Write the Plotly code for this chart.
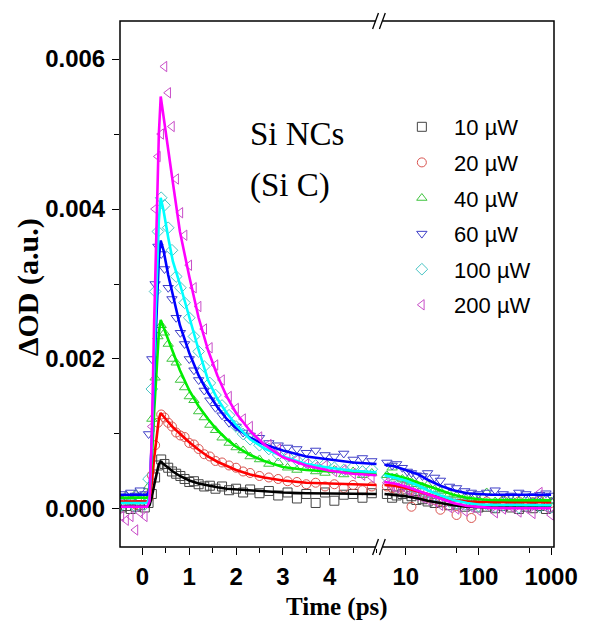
import plotly.graph_objects as go

# ---------------- data ----------------
series_names = ["10 \u00b5W", "20 \u00b5W", "40 \u00b5W", "60 \u00b5W", "100 \u00b5W", "200 \u00b5W"]

# measured points, linear time window (ps)
t_lin = [-0.45, -0.35, -0.25, -0.15, -0.05, 0.05, 0.13, 0.2, 0.27, 0.33, 0.4, 0.47, 0.55, 0.63,
         0.72, 0.81, 0.9, 1.0, 1.1, 1.2, 1.32, 1.44, 1.56, 1.7, 1.85, 2.0, 2.15, 2.3, 2.5, 2.7,
         2.9, 3.1, 3.3, 3.5, 3.7, 3.9, 4.1, 4.3, 4.5, 4.7, 4.9]
black_lin = [0.00002, 0.00004, 0.0, 0.00003, 0.00005, 0.00002, 0.00008, 0.0002, 0.00042, 0.00058,
             0.00066, 0.0006, 0.00055, 0.0005, 0.00047, 0.00044, 0.0004, 0.00036, 0.00037, 0.00033,
             0.0003, 0.00031, 0.00027, 0.0003, 0.00025, 0.00027, 0.00022, 0.00026, 0.00021, 0.00024,
             0.00018, 0.00022, 0.00014, 0.0002, 0.00008, 0.00022, 0.00011, 0.00019, 0.0002, 0.00015, 0.00021]
red_lin = [0.00008, 0.00012, 0.0001, 0.00006, 0.0001, 0.00009, 0.00015, 0.00045, 0.00085, 0.00115,
           0.00126, 0.00122, 0.00115, 0.0011, 0.00102, 0.00098, 0.00096, 0.00088, 0.00086, 0.0008,
           0.00073, 0.0007, 0.00064, 0.00062, 0.00058, 0.00055, 0.0005, 0.00048, 0.00044, 0.00042,
           0.0004, 0.00037, 0.00036, 0.00033, 0.00035, 0.0003, 0.00033, 0.00028, 0.00032, 0.00025, 0.0003]
green_lin = [0.00012, 0.00018, 0.00015, 0.0002, 0.00013, 0.00017, 0.0003, 0.0012, 0.00175, 0.0023,
             0.00245, 0.00235, 0.0022, 0.002, 0.00195, 0.00172, 0.00162, 0.0015, 0.00145, 0.0013,
             0.00122, 0.00112, 0.00105, 0.00095, 0.00088, 0.00082, 0.00078, 0.0007, 0.00066, 0.0006,
             0.00062, 0.00055, 0.00052, 0.00055, 0.0005, 0.00048, 0.00052, 0.00046, 0.0005, 0.00045, 0.00048]
blue_lin = [0.0002, 0.00015, 0.00022, 0.00018, 0.00025, 0.0002, 0.001, 0.002, 0.003, 0.0035,
            0.0034, 0.0032, 0.00295, 0.0028, 0.00255, 0.00235, 0.0022, 0.002, 0.00185, 0.00172,
            0.00158, 0.00145, 0.00135, 0.00125, 0.00115, 0.0011, 0.00102, 0.00098, 0.00095, 0.00088,
            0.00085, 0.00082, 0.0008, 0.00075, 0.00078, 0.00072, 0.0007, 0.00074, 0.00066, 0.00068, 0.00064]
cyan_lin = [0.00005, 0.0001, 0.00008, 0.00003, 0.0001, 0.00006, 0.0004, 0.0016, 0.0029, 0.0037,
            0.00415, 0.00405, 0.00375, 0.00345, 0.0031, 0.00295, 0.00275, 0.00255, 0.0023, 0.0021,
            0.0019, 0.00168, 0.00152, 0.00138, 0.00125, 0.0011, 0.001, 0.00093, 0.00085, 0.0008,
            0.00072, 0.0007, 0.00065, 0.00062, 0.00058, 0.0006, 0.00055, 0.00052, 0.00056, 0.0005, 0.00053]
pink_lin = [-0.0001, -0.00015, -0.0001, -0.00028, -0.00005, -0.0001, 0.0002, 0.0011, 0.004, 0.0047,
            0.005, 0.0059, 0.00555, 0.0051, 0.0044, 0.00395, 0.00365, 0.00325, 0.00295, 0.0027,
            0.0024, 0.00215, 0.00192, 0.00172, 0.0015, 0.00134, 0.0012, 0.0011, 0.00096, 0.00086,
            0.0008, 0.0007, 0.00066, 0.0006, 0.00056, 0.00058, 0.0005, 0.00052, 0.00047, 0.00045, 0.00042]

# measured points, logarithmic time window (ps)
t_log = [5.5, 6.5, 7.5, 9, 10.5, 12, 14, 17, 20, 25, 30, 40, 50, 65, 80, 100, 130, 170, 220, 280,
         360, 450, 560, 700, 850, 1000]
black_log = [0.0002, 0.00015, 0.00018, 0.0002, 0.00014, 0.00017, 0.00012, 0.00013, 0.0001, 0.00008,
             0.00009, 0.00005, 0.00006, 0.00003, 0.00005, 0.00002, 0.00003, 0.00001, 0.00004, 0.00002,
             0.0, 0.00003, 0.00001, 0.00004, 0.0, 0.00002]
red_log = [0.0003, 0.00028, 0.00025, 0.0003, 0.00022, 0.00003, 0.0002, 0.00017, 0.00015, 0.00012,
           -0.00001, 0.0001, -0.00008, 0.00008, -0.00012, 0.00009, 0.0001, 0.00007, 0.00011, 0.00008,
           0.0001, 0.00006, 0.00009, 0.00011, 0.00007, 0.00008]
green_log = [0.00045, 0.00055, 0.00042, 0.0004, 0.00038, 0.00036, 0.00033, 0.0003, 0.00032, 0.00026,
             0.00024, 0.0002, 0.00018, 0.00016, 0.00014, 0.00013, 0.00022, 0.0001, 0.00012, 0.00014,
             0.0001, 0.00013, 0.00009, 0.00012, 0.00014, 0.0001]
blue_log = [0.00062, 0.00058, 0.0006, 0.00055, 0.0005, 0.00048, 0.00045, 0.00044, 0.00048, 0.00042,
            0.00038, 0.0003, 0.00028, 0.00024, 0.00022, 0.0002, 0.00022, 0.00025, 0.0002, 0.00018,
            0.00022, 0.0002, 0.00017, 0.00019, 0.00021, 0.00018]
cyan_log = [0.00042, 0.0004, 0.00038, 0.00035, 0.00033, 0.0003, 0.00028, 0.00024, 0.00022, 0.00018,
            0.00015, 0.0001, 0.00008, 0.00006, 0.00005, 0.00004, 0.00006, 0.00003, 0.00005, 0.00007,
            0.00002, 0.00004, 0.00006, 0.00003, 0.00005, 0.00002]
pink_log = [0.00035, 0.0003, 0.00028, 0.0003, 0.00025, 0.00022, 0.00018, 0.00015, 0.00012, 0.0001,
            0.00005, 0.00002, 0.0, -0.00003, 0.00002, -0.00002, 0.00005, -0.00005, 0.0, 0.00003,
            -0.00004, 0.00001, -0.00006, 0.00022, 0.00002, -0.00008]

# fitted curves
tf_lin = [-0.5, 0.1, 0.15, 0.2, 0.25, 0.3, 0.35, 0.39, 0.45, 0.55, 0.65, 0.8, 1.0, 1.2, 1.4, 1.6,
          1.8, 2.0, 2.3, 2.6, 3.0, 3.5, 4.0, 4.5, 5.0]
black_fit_lin = [0.00003, 0.00003, 0.00005, 0.00016, 0.00032, 0.00048, 0.0006, 0.00063, 0.0006, 0.00055,
                 0.0005, 0.00044, 0.00038, 0.00034, 0.00031, 0.00029, 0.00027, 0.00026, 0.00025, 0.00024,
                 0.00022, 0.00021, 0.00021, 0.0002, 0.0002]
red_fit_lin = [0.0001, 0.0001, 0.00013, 0.00035, 0.00068, 0.00098, 0.0012, 0.00128, 0.00124, 0.00116,
               0.00109, 0.001, 0.00089, 0.00079, 0.0007, 0.00063, 0.00057, 0.00052, 0.00046, 0.00042,
               0.00038, 0.00035, 0.00034, 0.00033, 0.00032]
green_fit_lin = [0.00015, 0.00015, 0.0002, 0.00065, 0.0013, 0.0019, 0.00235, 0.00252, 0.00242, 0.00226,
                 0.0021, 0.00185, 0.00158, 0.00137, 0.0012, 0.00105, 0.00093, 0.00083, 0.00072, 0.00064,
                 0.00056, 0.00052, 0.0005, 0.00048, 0.00047]
blue_fit_lin = [0.00019, 0.00019, 0.00025, 0.0009, 0.0018, 0.0027, 0.00335, 0.00358, 0.00345, 0.00312,
                0.00285, 0.00245, 0.00208, 0.00178, 0.00155, 0.00136, 0.0012, 0.00108, 0.00095, 0.00086,
                0.00078, 0.0007, 0.00066, 0.00062, 0.0006]
cyan_fit_lin = [0.00008, 0.00008, 0.00015, 0.0009, 0.002, 0.0031, 0.00385, 0.00415, 0.00398, 0.00362,
                0.0033, 0.003, 0.00255, 0.00212, 0.00172, 0.00147, 0.00128, 0.00112, 0.00093, 0.00081,
                0.0007, 0.0006, 0.00055, 0.00051, 0.00049]
pink_fit_lin = [0.00003, 0.00003, 0.0001, 0.001, 0.0025, 0.0039, 0.005, 0.0055, 0.00525, 0.0048,
                0.00435, 0.0037, 0.0031, 0.00255, 0.00212, 0.00178, 0.0015, 0.00128, 0.00104, 0.00086,
                0.00069, 0.00058, 0.00051, 0.00047, 0.00045]

tf_log = [5.1, 7, 10, 15, 20, 30, 45, 70, 100, 150, 300, 1000]
black_fit_log = [0.0002, 0.00019, 0.00017, 0.00014, 0.00011, 0.00008, 0.00005, 0.00003, 0.000025, 0.00002, 0.00002, 0.00002]
red_fit_log = [0.00032, 0.00031, 0.00028, 0.00023, 0.00019, 0.00015, 0.00012, 0.0001, 0.000095, 0.00009, 0.00009, 0.00009]
green_fit_log = [0.00047, 0.00045, 0.00041, 0.00035, 0.0003, 0.00024, 0.00019, 0.00015, 0.00013, 0.00012, 0.000115, 0.000115]
blue_fit_log = [0.00059, 0.00057, 0.00052, 0.00046, 0.00039, 0.00031, 0.00025, 0.00021, 0.0002, 0.00019, 0.00019, 0.00019]
cyan_fit_log = [0.00045, 0.00042, 0.00038, 0.00031, 0.00025, 0.00018, 0.00012, 0.00008, 0.00006, 0.000055, 0.00005, 0.00005]
pink_fit_log = [0.00036, 0.00034, 0.0003, 0.00024, 0.00019, 0.00013, 0.00008, 0.00004, 0.000025, 0.000015, 0.00001, 0.00001]

y_ticks = [0.0, 0.002, 0.004, 0.006]
x_lin_ticks = [0, 1, 2, 3, 4]
x_log_ticks = [10, 100, 1000]
x_log_tick_labels = ["10", "100", "1000"]

# ---------------- styling ----------------
symbols = ["square-open", "circle-open", "triangle-up-open", "triangle-down-open", "diamond-open", "triangle-left-open"]
marker_colors = ["#444444", "#d9534f", "#3fc43f", "#4040c8", "#48c4c4", "#c84ec8"]
line_colors = ["#000000", "#ff0000", "#00ee00", "#0000ff", "#00ffff", "#ff00ff"]

meas_lin = [black_lin, red_lin, green_lin, blue_lin, cyan_lin, pink_lin]
meas_log = [black_log, red_log, green_log, blue_log, cyan_log, pink_log]
fit_lin = [black_fit_lin, red_fit_lin, green_fit_lin, blue_fit_lin, cyan_fit_lin, pink_fit_lin]
fit_log = [black_fit_log, red_fit_log, green_fit_log, blue_fit_log, cyan_fit_log, pink_fit_log]

fig = go.Figure()
for i, name in enumerate(series_names):
    mk = dict(symbol=symbols[i], size=9, color=marker_colors[i], line=dict(width=1, color=marker_colors[i]))
    fig.add_trace(go.Scatter(x=t_lin, y=meas_lin[i], mode="markers", marker=mk,
                             name="\u00a0\u00a0" + name,
                             legendgroup=name, showlegend=True, xaxis="x", yaxis="y"))
    fig.add_trace(go.Scatter(x=t_log, y=meas_log[i], mode="markers", marker=mk, name=name,
                             legendgroup=name, showlegend=False, xaxis="x2", yaxis="y"))
for i, name in enumerate(series_names):
    ln = dict(color=line_colors[i], width=2.6)
    fig.add_trace(go.Scatter(x=tf_lin, y=fit_lin[i], mode="lines", line=ln, showlegend=False,
                             xaxis="x", yaxis="y", hoverinfo="skip"))
    fig.add_trace(go.Scatter(x=tf_log, y=fit_log[i], mode="lines", line=ln, showlegend=False,
                             xaxis="x2", yaxis="y", hoverinfo="skip"))

W, H = 590, 621
L, R, T, B = 120, 565, 21, 547
split_px = 386
split = (split_px - L) / (R - L)


def px(x):
    return (x - L) / (R - L)


def py(y):
    return (B - y) / (B - T)


tickfont = dict(family="Liberation Sans", size=24, color="black", weight="bold")

fig.update_layout(
    width=W, height=H,
    margin=dict(l=L, r=W - R, t=T, b=H - B),
    paper_bgcolor="white", plot_bgcolor="white",
    showlegend=True,
    legend=dict(x=px(409), y=py(106), xanchor="left", yanchor="top",
                font=dict(family="Liberation Sans", size=22, color="black"),
                tracegroupgap=4, bgcolor="rgba(0,0,0,0)", itemsizing="trace"),
    xaxis=dict(domain=[0, split], range=[-0.48, 5.0625], anchor="y",
               tickmode="array", tickvals=x_lin_ticks, ticks="outside", ticklen=7, tickwidth=1.3,
               tickcolor="black", tickfont=tickfont, ticklabelstandoff=1,
               minor=dict(dtick=0.5, tick0=0, ticks="outside", ticklen=5, tickwidth=1.2, tickcolor="black"),
               showgrid=False, zeroline=False, showline=False),
    xaxis2=dict(domain=[split, 1], type="log", range=[0.638, 3.04], anchor="y",
                tickmode="array", tickvals=x_log_ticks, ticktext=x_log_tick_labels,
                ticks="outside", ticklen=7, tickwidth=1.3, tickcolor="black", tickfont=tickfont,
                ticklabelstandoff=1,
                minor=dict(tickmode="array", tickvals=[50, 500], ticks="outside", ticklen=5,
                           tickwidth=1.2, tickcolor="black"),
                showgrid=False, zeroline=False, showline=False),
    yaxis=dict(range=[-0.000507, 0.006507], tickmode="array", tickvals=y_ticks, tickformat=".3f",
               ticks="outside", ticklen=7, tickwidth=1.3, tickcolor="black", tickfont=tickfont,
               ticklabelstandoff=2,
               minor=dict(dtick=0.001, tick0=0, ticks="outside", ticklen=5, tickwidth=1.2, tickcolor="black"),
               showgrid=False, zeroline=False, showline=False),
)

shapes = [
    dict(type="rect", xref="paper", yref="paper", x0=0, x1=1, y0=0, y1=1,
         line=dict(color="black", width=1.5), layer="above"),
]
# axis break marks (top and bottom)
for yc in (T, B):
    shapes.append(dict(type="line", xref="paper", yref="paper", x0=px(382.5), x1=px(389.5),
                       y0=py(yc), y1=py(yc), line=dict(color="white", width=4), layer="above"))
    for x0 in (379, 386):
        shapes.append(dict(type="line", xref="paper", yref="paper", x0=px(x0), x1=px(x0 + 6),
                           y0=py(yc + 8), y1=py(yc - 8), line=dict(color="black", width=1.3),
                           layer="above"))
fig.update_layout(shapes=shapes)

annotations = [
    dict(text="Si NCs", x=px(251), y=py(134), xref="paper", yref="paper", xanchor="left", yanchor="middle",
         showarrow=False, font=dict(family="Liberation Serif", size=33, color="black")),
    dict(text="(Si C)", x=px(251), y=py(186), xref="paper", yref="paper", xanchor="left", yanchor="middle",
         showarrow=False, font=dict(family="Liberation Serif", size=33, color="black")),
    dict(text="Time (ps)", x=0.5, y=py(607), xref="paper", yref="paper", xanchor="center", yanchor="middle",
         showarrow=False, font=dict(family="Liberation Serif", size=25, color="black", weight="bold")),
    dict(text="\u0394OD (a.u.)", x=px(26), y=py(287), xref="paper", yref="paper", xanchor="center",
         yanchor="middle", textangle=-90, showarrow=False,
         font=dict(family="Liberation Serif", size=30, color="black", weight="bold")),
]
fig.update_layout(annotations=annotations)

fig.write_html("out.html")
